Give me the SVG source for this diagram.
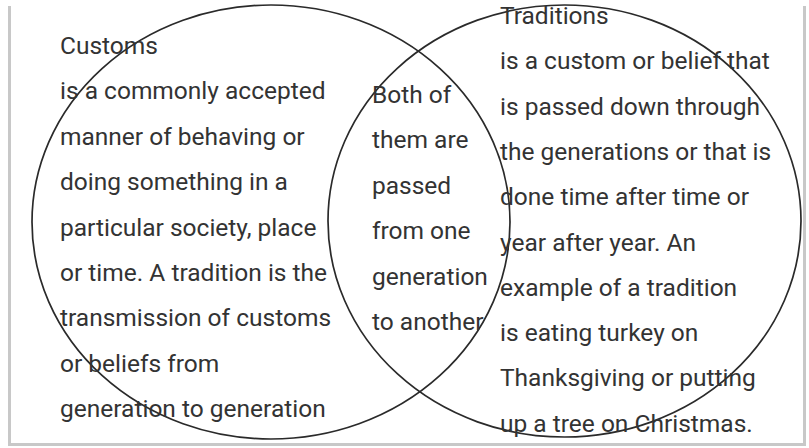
<svg xmlns="http://www.w3.org/2000/svg" width="809" height="448" viewBox="0 0 809 448">
<style>
.t{font-family:Roboto,"Liberation Sans",sans-serif;font-size:24.5px;fill:#333}
.c{fill:none;stroke:#2a2a2a;stroke-width:1.7}
.frame{fill:none;stroke:#c8c8c8;stroke-width:3}
</style>
<rect x="0" y="0" width="809" height="448" fill="#fff"/>
<path class="frame" d="M9.5 6V444.5H804.5V6"/>
<g id="customs">
<ellipse class="c" cx="271" cy="222" rx="239" ry="217"/>
<text class="t" x="60" y="54">Customs</text>
<text class="t" x="60" y="99.4">is a commonly accepted</text>
<text class="t" x="60" y="144.8">manner of behaving or</text>
<text class="t" x="60" y="190.2">doing something in a</text>
<text class="t" x="60" y="235.6">particular society, place</text>
<text class="t" x="60" y="281">or time. A tradition is the</text>
<text class="t" x="60" y="326.4">transmission of customs</text>
<text class="t" x="60" y="371.8">or beliefs from</text>
<text class="t" x="60" y="417.2">generation to generation</text>
</g>
<g id="traditions">
<ellipse class="c" cx="564.5" cy="221" rx="236.5" ry="216"/>
<text class="t" x="500" y="24">Traditions</text>
<text class="t" x="500" y="69.3">is a custom or belief that</text>
<text class="t" x="500" y="114.6">is passed down through</text>
<text class="t" x="500" y="159.9">the generations or that is</text>
<text class="t" x="500" y="205.2">done time after time or</text>
<text class="t" x="500" y="250.5">year after year. An</text>
<text class="t" x="500" y="295.8">example of a tradition</text>
<text class="t" x="500" y="341.1">is eating turkey on</text>
<text class="t" x="500" y="386.4">Thanksgiving or putting</text>
<text class="t" x="500" y="431.7">up a tree on Christmas.</text>
</g>
<g id="both">
<text class="t" x="372" y="103">Both of</text>
<text class="t" x="372" y="148.4">them are</text>
<text class="t" x="372" y="193.8">passed</text>
<text class="t" x="372" y="239.2">from one</text>
<text class="t" x="372" y="284.6">generation</text>
<text class="t" x="372" y="330">to another</text>
</g>
<g id="connectors"/>
</svg>
